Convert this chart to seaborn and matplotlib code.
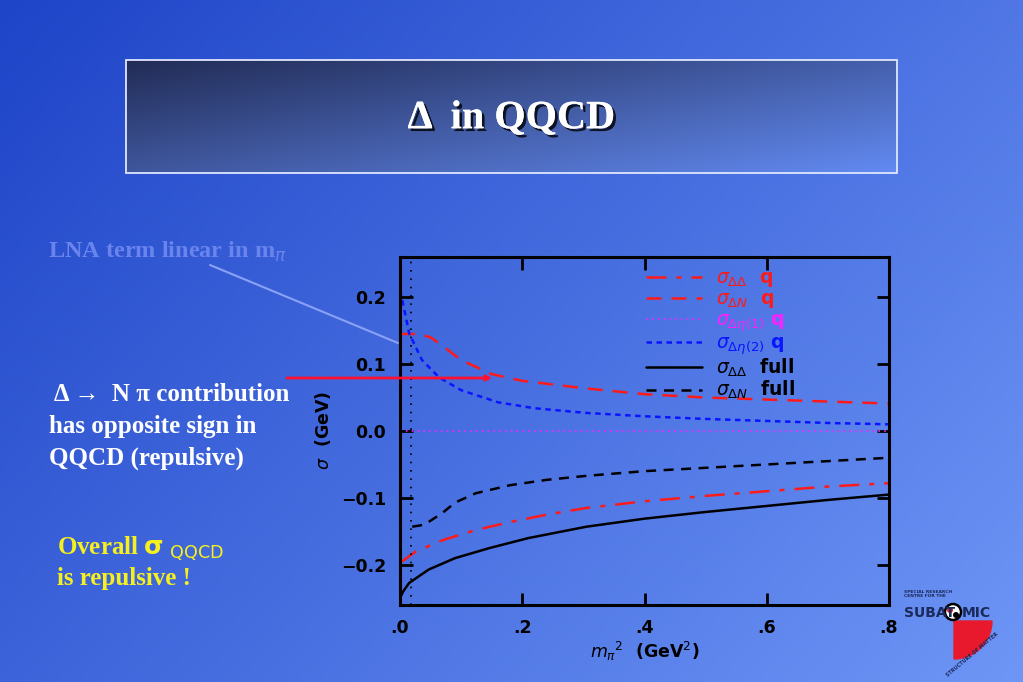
import numpy as np
import pandas as pd
import matplotlib
matplotlib.use('Agg')
import matplotlib.pyplot as plt
import matplotlib.patheffects as pe
from matplotlib.patches import Rectangle, Wedge, Circle
import seaborn as sns

# data
x_dd_q = [0.0, 0.026, 0.07, 0.124, 0.18, 0.24, 0.305, 0.4, 0.5, 0.6, 0.7, 0.8]
y_dd_q = [-0.197, -0.18, -0.163, -0.148, -0.136, -0.125, -0.115, -0.105, -0.097, -0.090, -0.083, -0.078]

x_dn_q = [0.0, 0.03, 0.05, 0.07, 0.10, 0.15, 0.2, 0.3, 0.4, 0.5, 0.6, 0.7, 0.8]
y_dn_q = [0.145, 0.145, 0.140, 0.127, 0.106, 0.085, 0.075, 0.064, 0.055, 0.050, 0.047, 0.044, 0.041]

x_de1_q = [0.0, 0.8]
y_de1_q = [0.0, 0.0]

x_de2_q = [0.0, 0.005, 0.015, 0.036, 0.064, 0.10, 0.16, 0.22, 0.305, 0.4, 0.5, 0.6, 0.7, 0.8]
y_de2_q = [0.21, 0.19, 0.146, 0.106, 0.080, 0.061, 0.043, 0.034, 0.027, 0.022, 0.018, 0.015, 0.012, 0.010]

x_dd_full = [0.0, 0.005, 0.015, 0.047, 0.09, 0.146, 0.21, 0.305, 0.4, 0.5, 0.6, 0.7, 0.8]
y_dd_full = [-0.25, -0.24, -0.227, -0.207, -0.19, -0.175, -0.16, -0.143, -0.131, -0.121, -0.112, -0.103, -0.095]

x_dn_full = [0.02, 0.04, 0.07, 0.09, 0.124, 0.18, 0.24, 0.305, 0.4, 0.5, 0.6, 0.7, 0.8]
y_dn_full = [-0.143, -0.140, -0.122, -0.107, -0.093, -0.081, -0.073, -0.067, -0.060, -0.055, -0.050, -0.045, -0.040]

m_pi_phys = 0.018

x_ticks = [0.0, 0.2, 0.4, 0.6, 0.8]
x_ticklabels = ['.0', '.2', '.4', '.6', '.8']
y_ticks = [-0.2, -0.1, 0.0, 0.1, 0.2]
y_ticklabels = ['\u22120.2', '\u22120.1', '0.0', '0.1', '0.2']

sns.set_style('ticks', {'axes.edgecolor': 'black', 'text.color': 'black', 'axes.labelcolor': 'black',
                        'xtick.color': 'black', 'ytick.color': 'black'})
plt.rcParams['font.family'] = ['DejaVu Sans']
plt.rcParams['mathtext.fontset'] = 'dejavusans'

W, H = 1023, 682
fig = plt.figure(figsize=(W / 100, H / 100), dpi=100)

# slide background gradient
bg = fig.add_axes([0, 0, 1, 1], zorder=0)
xx, yy = np.meshgrid(np.linspace(0, 1, 200), np.linspace(0, 1, 140))
t = np.clip(0.62 * xx + 0.38 * yy, 0, 1)
c0 = np.array([30, 68, 200]) / 255
c1 = np.array([110, 150, 246]) / 255
img = c0[None, None, :] * (1 - t[..., None]) + c1[None, None, :] * t[..., None]
bg.imshow(img, extent=[0, W, H, 0], aspect='auto')
bg.set_xlim(0, W)
bg.set_ylim(H, 0)
bg.axis('off')

# title box
tb = fig.add_axes([126 / W, 1 - 173 / H, (897 - 126) / W, (173 - 60) / H], zorder=1)
xx, yy = np.meshgrid(np.linspace(0, 1, 200), np.linspace(0, 1, 60))
t = np.clip(0.55 * xx + 0.45 * yy, 0, 1)
c0 = np.array([34, 44, 86]) / 255
c1 = np.array([98, 138, 242]) / 255
img = c0[None, None, :] * (1 - t[..., None]) + c1[None, None, :] * t[..., None]
tb.imshow(img, extent=[0, 1, 1, 0], aspect='auto')
tb.set_xlim(0, 1)
tb.set_ylim(1, 0)
tb.axis('off')
tb.add_patch(Rectangle((0, 0), 1, 1, fill=False, ec='#dfe6ff', lw=1.3, transform=tb.transAxes, clip_on=False))
tb.text(0.5, 0.52, '\u0394  in QQCD', ha='center', va='center', color='white', fontsize=29,
        fontweight='bold', family='Liberation Serif',
        path_effects=[pe.withSimplePatchShadow(offset=(2, -2), shadow_rgbFace='black', alpha=0.8), pe.Normal()])

# main plot
ax = fig.add_axes([400 / W, 1 - 605 / H, (889 - 400) / W, (605 - 257) / H], zorder=2)
ax.patch.set_alpha(0)

sns.lineplot(x=x_dd_q, y=y_dd_q, ax=ax, color='#ff1a1a', lw=1.8, label=r'$\sigma_{\Delta\Delta}$  q')
ax.lines[-1].set_dashes([8, 4, 2, 4])
sns.lineplot(x=x_dn_q, y=y_dn_q, ax=ax, color='#ff1a1a', lw=1.8, label=r'$\sigma_{\Delta N}$  q')
ax.lines[-1].set_dashes([6, 4])
sns.lineplot(x=x_de1_q, y=y_de1_q, ax=ax, color='#ff20ff', lw=1.2, label=r'$\sigma_{\Delta\eta(1)}$ q')
ax.lines[-1].set_dashes([1, 2.5])
sns.lineplot(x=x_de2_q, y=y_de2_q, ax=ax, color='#0a14ff', lw=1.8, label=r'$\sigma_{\Delta\eta(2)}$ q')
ax.lines[-1].set_dashes([2.2, 1.8])
sns.lineplot(x=x_dd_full, y=y_dd_full, ax=ax, color='black', lw=1.8, label=r'$\sigma_{\Delta\Delta}$  full')
sns.lineplot(x=x_dn_full, y=y_dn_full, ax=ax, color='black', lw=1.8, label=r'$\sigma_{\Delta N}$  full')
ax.lines[-1].set_dashes([4, 3])

ax.axvline(m_pi_phys, color='black', lw=1.2, ls=(0, (1, 4)))

ax.set_xlim(0, 0.8)
ax.set_ylim(-0.26, 0.26)
ax.set_xticks(x_ticks)
ax.set_xticklabels(x_ticklabels)
ax.set_yticks(y_ticks)
ax.set_yticklabels(y_ticklabels)
ax.tick_params(direction='in', length=9, width=2, top=True, right=True, labelsize=12.5, pad=10,
               colors='black')
for lab in ax.get_xticklabels() + ax.get_yticklabels():
    lab.set_fontweight('bold')
for s in ax.spines.values():
    s.set_linewidth(2.2)
    s.set_color('black')
    s.set_visible(True)
ax.set_xlabel(r'$m_\pi$$^2$  (GeV$^2$)', fontsize=12.5, fontweight='bold', labelpad=2, color='black')
ax.set_ylabel(r'$\sigma$  (GeV)', fontsize=12.5, fontweight='bold', labelpad=6, color='black')

leg = ax.legend(loc='upper right', bbox_to_anchor=(0.83, 1.0), frameon=False, fontsize=13.5,
                handlelength=3.0, handletextpad=0.7, labelspacing=0.0, labelcolor='linecolor',
                borderaxespad=0.2)
for txt in leg.get_texts():
    txt.set_fontweight('bold')

# annotations over the slide
ov = fig.add_axes([0, 0, 1, 1], zorder=3)
ov.set_xlim(0, W)
ov.set_ylim(H, 0)
ov.axis('off')
ov.patch.set_alpha(0)

serif = 'Liberation Serif'
ov.text(48, 258, r'LNA term linear in m$_\pi$', color='#6a84ee', fontsize=17.5, fontweight='bold',
        family=serif, va='baseline')
ov.plot([210, 398], [265, 343], color='#8aa2f5', lw=1.5)
ov.annotate('', xy=(495, 378), xytext=(284, 378),
            arrowprops=dict(arrowstyle='-|>', color='#ff1030', lw=2, mutation_scale=8))

for i, line in enumerate([' \u0394 \u2192  N \u03c0 contribution', 'has opposite sign in', 'QQCD (repulsive)']):
    ov.text(49, 401 + i * 32, line, color='white', fontsize=18, fontweight='bold', family=serif, va='baseline')

ov.text(57, 555, r'Overall $\mathbf{\sigma}$ $_{\mathrm{QQCD}}$', color='#f5f01e', fontsize=18, fontweight='bold',
        family=serif, va='baseline')
ov.text(57, 585, 'is repulsive !', color='#f5f01e', fontsize=18, fontweight='bold', family=serif, va='baseline')

# logo
ov.add_patch(Wedge((954, 621), 38, 0, 90, color='#e8192c', transform=ov.transData))
ov.text(904, 598, 'SPECIAL RESEARCH\nCENTRE FOR THE', fontsize=3.2, color='#1a2a5a', fontweight='bold',
        linespacing=1.0, va='bottom')
ov.text(904, 617, 'SUBAT', fontsize=10, color='#1a2a5a', fontweight='bold', va='baseline')
ov.add_patch(Circle((953, 612), 8, fc='white', ec='black', lw=1.8))
ov.add_patch(Circle((950, 610), 3, fc='#e8192c', ec='none'))
ov.add_patch(Circle((956, 615), 3, fc='black', ec='none'))
ov.text(962, 617, 'MIC', fontsize=10, color='#1a2a5a', fontweight='bold', va='baseline')
ov.text(972, 655, 'STRUCTURE OF MATTER', fontsize=3.5, color='#1a2a5a', fontweight='bold', rotation=40,
        ha='center', va='center')

fig.savefig('out.png', dpi=100)
